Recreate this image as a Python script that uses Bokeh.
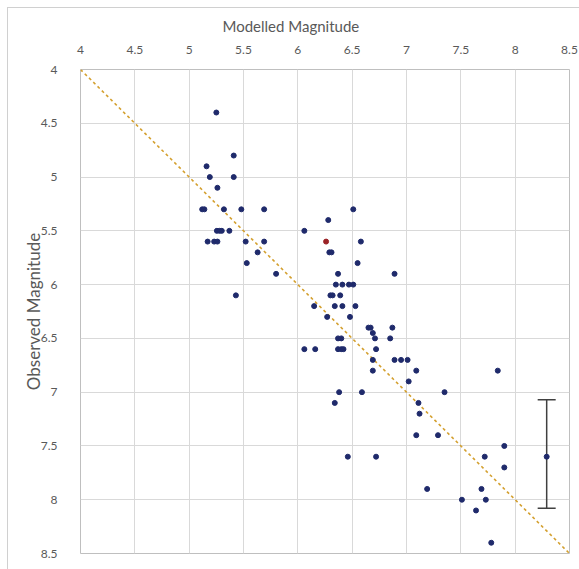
from bokeh.plotting import figure
from bokeh.models import (Range1d, FixedTicker, Title, ColumnDataSource, Whisker, TeeHead)
from bokeh.embed import file_html
from bokeh.resources import INLINE

# ---- data ----
model_mag = [5.25, 5.41, 5.16, 5.19, 5.41, 5.26, 5.12, 5.14, 5.32, 5.48, 5.69, 6.51, 6.28,
             5.255, 5.28, 5.30, 5.37, 6.06,
             5.17, 5.23, 5.26, 5.52, 5.69, 6.58,
             5.63, 6.29, 6.31,
             5.53, 6.55,
             5.80, 6.37, 6.89,
             6.35, 6.41, 6.47, 6.51,
             5.43, 6.30, 6.32, 6.39,
             6.15, 6.34, 6.41, 6.53,
             6.27, 6.48,
             6.65, 6.67, 6.87,
             6.69,
             6.37, 6.40, 6.71, 6.85,
             6.06, 6.16, 6.37, 6.40, 6.42, 6.72,
             6.69, 6.89, 6.95, 7.01,
             6.69, 7.09, 7.84,
             7.02,
             6.38, 6.59, 7.35,
             6.34, 7.11,
             7.12,
             7.09, 7.29,
             7.90,
             6.46, 6.72, 7.72,
             7.90,
             7.19, 7.69,
             7.51, 7.73,
             7.64,
             7.78]
obs_mag = [4.4, 4.8, 4.9, 5.0, 5.0, 5.1, 5.3, 5.3, 5.3, 5.3, 5.3, 5.3, 5.4,
           5.5, 5.5, 5.5, 5.5, 5.5,
           5.6, 5.6, 5.6, 5.6, 5.6, 5.6,
           5.7, 5.7, 5.7,
           5.8, 5.8,
           5.9, 5.9, 5.9,
           6.0, 6.0, 6.0, 6.0,
           6.1, 6.1, 6.1, 6.1,
           6.2, 6.2, 6.2, 6.2,
           6.3, 6.3,
           6.4, 6.4, 6.4,
           6.45,
           6.5, 6.5, 6.5, 6.5,
           6.6, 6.6, 6.6, 6.6, 6.6, 6.6,
           6.7, 6.7, 6.7, 6.7,
           6.8, 6.8, 6.8,
           6.9,
           7.0, 7.0, 7.0,
           7.1, 7.1,
           7.2,
           7.4, 7.4,
           7.5,
           7.6, 7.6, 7.6,
           7.7,
           7.9, 7.9,
           8.0, 8.0,
           8.1,
           8.4]

red_model = [6.26]
red_obs = [5.6]

err_model = [8.29]
err_obs = [7.6]
err_upper = [7.07]
err_lower = [8.08]

line_x = [4.0, 8.5]
line_y = [4.0, 8.5]

tick_values = [4, 4.5, 5, 5.5, 6, 6.5, 7, 7.5, 8, 8.5]
tick_labels = ["4", "4.5", "5", "5.5", "6", "6.5", "7", "7.5", "8", "8.5"]

FONT = "Lato"
TEXT_COLOR = "#595959"
GRID = "#d9d9d9"
FRAME_BORDER = "#d0d0d0"

chart_bg = ("linear-gradient({c},{c}) 7px 7px / 1px 100% no-repeat, "
            "linear-gradient({c},{c}) 7px 7px / 100% 1px no-repeat, white").format(c=FRAME_BORDER)

p = figure(width=579, height=569, output_backend="svg", toolbar_location=None,
           x_range=Range1d(4, 8.5), y_range=Range1d(8.5, 4),
           x_axis_location="above",
           min_border_left=80, min_border_right=10, min_border_top=69, min_border_bottom=16,
           styles={"background": chart_bg})

p.border_fill_color = None
p.background_fill_color = "white"
p.outline_line_color = "#bfbfbf"
p.outline_line_width = 1

for ax in (p.xaxis[0], p.yaxis[0]):
    ax.ticker = FixedTicker(ticks=tick_values)
    ax.major_label_overrides = {v: s for v, s in zip(tick_values, tick_labels)}
    ax.axis_line_color = None
    ax.major_tick_line_color = None
    ax.minor_tick_line_color = None
    ax.major_label_text_font = FONT
    ax.major_label_text_font_size = "12px"
    ax.major_label_text_color = TEXT_COLOR

p.xaxis.major_label_standoff = 10
p.yaxis.major_label_standoff = 17

p.yaxis.axis_label = "Observed Magnitude"
p.yaxis.axis_label_text_font = FONT
p.yaxis.axis_label_text_font_size = "17px"
p.yaxis.axis_label_text_font_style = "normal"
p.yaxis.axis_label_text_color = TEXT_COLOR
p.yaxis.axis_label_standoff = -6

# small empty spacer between the top axis and its title
p.add_layout(Title(text=" ", text_font_size="3px", standoff=0), "above")
p.add_layout(Title(text="Modelled Magnitude", align="left", offset=142,
                   text_font=FONT, text_font_size="15px", text_font_style="normal",
                   text_color=TEXT_COLOR, standoff=6), "above")

p.xgrid.grid_line_color = GRID
p.ygrid.grid_line_color = GRID
p.xgrid.grid_line_width = 1
p.ygrid.grid_line_width = 1

p.line(line_x, line_y, line_color="#d4a02f", line_width=1.6, line_dash="3 3")

p.scatter(model_mag, obs_mag, size=5, fill_color="#1f2a6b", line_color="#1f2a6b")
p.scatter(red_model, red_obs, size=5, fill_color="#9b2226", line_color="#9b2226")

src = ColumnDataSource(dict(x=err_model, y=err_obs, upper=err_upper, lower=err_lower))
p.add_layout(Whisker(source=src, base="x", upper="upper", lower="lower",
                     line_color="#404040", line_width=1.5,
                     upper_head=TeeHead(size=18, line_color="#404040", line_width=1.5),
                     lower_head=TeeHead(size=18, line_color="#404040", line_width=1.5)))
p.scatter(err_model, err_obs, size=5, fill_color="#1f2a6b", line_color="#1f2a6b")

open("out.html", "w").write(file_html(p, INLINE))
